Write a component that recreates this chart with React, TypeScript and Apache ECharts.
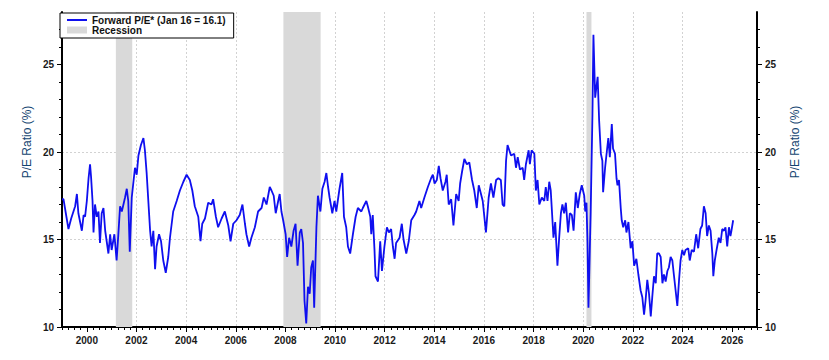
import React, { useEffect, useRef } from "react";
import * as echarts from "echarts";

// Forward P/E readings: [decimal year, value]
const forwardPE: [number, number][] = [
  [1999.0, 17.3], [1999.06, 17.3], [1999.26, 15.6], [1999.37, 16.2], [1999.53, 16.9], [1999.6, 17.6],
  [1999.66, 16.5], [1999.8, 15.5], [1999.87, 16.4], [1999.93, 16.3], [2000.0, 17.2], [2000.07, 18.5],
  [2000.13, 19.3], [2000.17, 18.6], [2000.23, 17.2], [2000.27, 15.4], [2000.33, 17.0], [2000.4, 16.3],
  [2000.47, 16.6], [2000.53, 14.8], [2000.6, 16.5], [2000.67, 16.8], [2000.74, 15.5], [2000.87, 14.2],
  [2000.94, 15.3], [2001.0, 14.4], [2001.11, 15.3], [2001.2, 13.8], [2001.27, 15.3], [2001.34, 16.9],
  [2001.41, 16.6], [2001.54, 17.4], [2001.61, 17.9], [2001.67, 17.2], [2001.73, 14.3], [2001.81, 17.4],
  [2001.94, 19.1], [2002.01, 18.7], [2002.08, 19.8], [2002.18, 20.4], [2002.28, 20.8], [2002.34, 20.1],
  [2002.41, 18.8], [2002.55, 15.5], [2002.61, 14.6], [2002.68, 15.5], [2002.75, 13.3], [2002.81, 14.6],
  [2002.91, 15.3], [2002.99, 14.9], [2003.08, 13.8], [2003.18, 13.1], [2003.28, 14.0], [2003.35, 15.1],
  [2003.48, 16.6], [2003.62, 17.2], [2003.75, 17.8], [2003.89, 18.3], [2004.02, 18.7], [2004.15, 18.4],
  [2004.25, 17.8], [2004.35, 16.9], [2004.49, 16.3], [2004.58, 14.9], [2004.65, 15.9], [2004.76, 16.2],
  [2004.89, 17.1], [2005.02, 17.0], [2005.09, 17.3], [2005.2, 16.3], [2005.29, 15.7], [2005.43, 16.2],
  [2005.56, 16.6], [2005.7, 15.8], [2005.79, 14.9], [2005.9, 15.9], [2006.03, 16.1], [2006.16, 16.4],
  [2006.27, 17.0], [2006.37, 15.9], [2006.43, 15.3], [2006.54, 14.6], [2006.63, 15.1], [2006.77, 15.7],
  [2006.9, 16.6], [2007.04, 16.8], [2007.13, 17.4], [2007.24, 17.0], [2007.37, 18.0], [2007.44, 17.8],
  [2007.53, 17.5], [2007.61, 16.5], [2007.71, 17.2], [2007.77, 17.6], [2007.84, 16.6], [2007.91, 16.1],
  [2008.01, 15.3], [2008.07, 14.0], [2008.15, 15.1], [2008.24, 14.6], [2008.33, 15.5], [2008.41, 15.9],
  [2008.49, 13.5], [2008.58, 15.4], [2008.64, 15.6], [2008.71, 14.8], [2008.77, 11.5], [2008.84, 10.2],
  [2008.91, 12.3], [2008.98, 11.9], [2009.04, 13.4], [2009.11, 13.8], [2009.16, 11.1], [2009.25, 15.7],
  [2009.31, 17.5], [2009.41, 16.6], [2009.49, 17.9], [2009.58, 18.3], [2009.65, 18.8], [2009.72, 18.0],
  [2009.78, 17.4], [2009.89, 16.5], [2009.98, 17.2], [2010.05, 16.6], [2010.18, 17.9], [2010.29, 18.8],
  [2010.36, 16.3], [2010.45, 15.7], [2010.52, 14.6], [2010.61, 14.2], [2010.72, 15.3], [2010.83, 16.3],
  [2010.92, 16.8], [2011.06, 16.6], [2011.12, 16.8], [2011.26, 17.2], [2011.32, 16.9], [2011.42, 16.3],
  [2011.46, 15.3], [2011.52, 16.4], [2011.59, 14.4], [2011.63, 12.9], [2011.73, 12.6], [2011.82, 14.9],
  [2011.89, 13.2], [2011.99, 14.6], [2012.09, 15.7], [2012.17, 15.4], [2012.26, 15.6], [2012.33, 14.6],
  [2012.4, 13.9], [2012.46, 14.8], [2012.6, 15.1], [2012.69, 15.9], [2012.76, 15.0], [2012.87, 14.2],
  [2012.97, 14.9], [2013.07, 16.1], [2013.2, 16.4], [2013.27, 16.6], [2013.4, 17.2], [2013.47, 16.8],
  [2013.6, 17.4], [2013.74, 18.0], [2013.87, 18.5], [2013.94, 18.7], [2014.01, 18.2], [2014.1, 18.4],
  [2014.18, 19.2], [2014.25, 18.5], [2014.34, 17.8], [2014.45, 18.3], [2014.5, 18.7], [2014.58, 17.0],
  [2014.68, 17.3], [2014.77, 15.8], [2014.88, 17.6], [2014.98, 17.2], [2015.04, 18.2], [2015.12, 18.9],
  [2015.21, 19.6], [2015.31, 19.3], [2015.41, 19.4], [2015.52, 18.4], [2015.61, 17.8], [2015.71, 16.8],
  [2015.79, 18.1], [2015.88, 17.6], [2015.95, 17.2], [2016.08, 15.4], [2016.19, 17.4], [2016.28, 18.2],
  [2016.38, 17.4], [2016.49, 18.4], [2016.58, 18.5], [2016.68, 18.4], [2016.75, 17.0], [2016.82, 16.9],
  [2016.89, 19.5], [2016.95, 20.4], [2017.09, 19.8], [2017.22, 19.9], [2017.29, 19.1], [2017.36, 19.7],
  [2017.45, 19.0], [2017.56, 19.1], [2017.62, 18.4], [2017.69, 19.3], [2017.8, 20.1], [2017.85, 19.3],
  [2017.92, 20.1], [2018.03, 19.9], [2018.09, 17.8], [2018.16, 18.4], [2018.23, 17.0], [2018.33, 17.4],
  [2018.43, 17.2], [2018.49, 18.0], [2018.56, 17.2], [2018.63, 18.3], [2018.69, 17.8], [2018.76, 16.1],
  [2018.8, 15.1], [2018.87, 16.0], [2018.96, 13.5], [2019.03, 15.1], [2019.1, 16.5], [2019.16, 17.0],
  [2019.23, 16.5], [2019.3, 17.1], [2019.39, 15.4], [2019.46, 16.5], [2019.54, 16.4], [2019.61, 15.5],
  [2019.7, 17.7], [2019.78, 16.8], [2019.86, 17.6], [2019.94, 18.1], [2020.04, 17.5], [2020.08, 16.6],
  [2020.13, 17.1], [2020.17, 14.9], [2020.21, 11.1], [2020.24, 12.9], [2020.3, 16.6], [2020.37, 22.1],
  [2020.41, 26.7], [2020.48, 23.1], [2020.53, 23.7], [2020.58, 24.3], [2020.64, 21.8], [2020.71, 19.9],
  [2020.77, 19.5], [2020.8, 17.7], [2020.88, 19.1], [2020.94, 19.9], [2021.01, 20.8], [2021.07, 19.7],
  [2021.15, 21.6], [2021.2, 20.2], [2021.28, 19.9], [2021.34, 18.5], [2021.38, 18.1], [2021.44, 18.4],
  [2021.51, 16.8], [2021.55, 16.1], [2021.61, 15.7], [2021.69, 16.1], [2021.74, 15.4], [2021.82, 16.0],
  [2021.91, 14.5], [2021.98, 14.9], [2022.05, 13.5], [2022.14, 13.9], [2022.22, 13.0], [2022.31, 12.1],
  [2022.38, 11.7], [2022.45, 10.7], [2022.51, 11.5], [2022.58, 12.7], [2022.65, 11.9], [2022.72, 10.6],
  [2022.78, 11.7], [2022.85, 12.9], [2022.92, 12.5], [2022.98, 14.2], [2023.05, 14.2], [2023.12, 14.0],
  [2023.19, 12.5], [2023.25, 13.0], [2023.32, 12.6], [2023.39, 13.2], [2023.45, 13.4], [2023.52, 14.0],
  [2023.59, 13.8], [2023.65, 13.0], [2023.72, 12.1], [2023.79, 11.2], [2023.86, 12.7], [2023.92, 13.8],
  [2023.99, 14.4], [2024.06, 14.1], [2024.12, 14.4], [2024.23, 14.5], [2024.29, 13.8], [2024.37, 14.4],
  [2024.46, 14.3], [2024.55, 15.3], [2024.63, 14.5], [2024.72, 15.6], [2024.79, 15.8], [2024.86, 16.9],
  [2024.93, 16.5], [2024.99, 15.2], [2025.06, 15.8], [2025.13, 15.5], [2025.2, 14.2], [2025.24, 12.9],
  [2025.3, 13.8], [2025.37, 14.4], [2025.46, 15.1], [2025.53, 14.8], [2025.6, 15.6], [2025.67, 15.5],
  [2025.73, 15.7], [2025.8, 14.6], [2025.87, 15.7], [2025.93, 15.2], [2025.97, 15.5], [2026.04, 16.1],
];

// Recession periods (decimal years)
const recessions: [number, number][] = [
  [2001.17, 2001.83],
  [2007.92, 2009.42],
  [2020.13, 2020.33],
];

const xTickLabels = [2000, 2002, 2004, 2006, 2008, 2010, 2012, 2014, 2016, 2018, 2020, 2022, 2024, 2026];
const yTickLabels = [10, 15, 20, 25];

const seriesName = "Forward P/E* (Jan 16 = 16.1)";
const recessionName = "Recession";
const axisTitle = "P/E Ratio (%)";

const X_MIN = 1999;
const X_MAX = 2027;
const Y_MIN = 10;
const Y_MAX = 28;

const FONT = "Arial, 'Liberation Sans', Helvetica, sans-serif";
const TITLE_COLOR = "#134470";
const LINE_COLOR = "#0f0fef";

export default function App() {
  const ref = useRef<HTMLDivElement>(null);

  useEffect(() => {
    if (!ref.current) return;
    const chart = echarts.init(ref.current, undefined, { renderer: "svg" });

    const xMinor: number[] = [];
    for (let q = X_MIN * 4; q <= X_MAX * 4; q++) {
      const v = q / 4;
      if (!xTickLabels.includes(v)) xMinor.push(v);
    }
    const yMinor: number[] = [];
    for (let v = Y_MIN + 1; v < Y_MAX; v++) {
      if (!yTickLabels.includes(v)) yMinor.push(v);
    }

    const labelStyle = {
      color: "#1a1a1a",
      fontWeight: "bold" as const,
      fontSize: 10,
      fontFamily: FONT,
    };
    const splitLine = {
      show: true,
      showMinLine: false,
      showMaxLine: false,
      lineStyle: { color: "#d2d2d2", type: [2, 2] as any, width: 1 },
    };

    const majorY = (position: "left" | "right") => ({
      type: "value",
      position,
      min: Y_MIN,
      max: Y_MAX,
      interval: 5,
      axisLine: { show: true, lineStyle: { color: "#000", width: 2 } },
      axisTick: { show: true, customValues: yTickLabels, length: 5, inside: false, lineStyle: { color: "#000", width: 1 } },
      axisLabel: { ...labelStyle, customValues: yTickLabels, margin: 8 },
      splitLine: position === "left" ? splitLine : { show: false },
    });
    const minorY = (position: "left" | "right") => ({
      type: "value",
      position,
      min: Y_MIN,
      max: Y_MAX,
      interval: 1,
      axisLine: { show: false },
      axisTick: { show: true, customValues: yMinor, length: 3, inside: false, lineStyle: { color: "#000", width: 1 } },
      axisLabel: { show: false },
      splitLine: { show: false },
    });

    const titleText = (x: number) => ({
      type: "text",
      x,
      y: 142,
      rotation: Math.PI / 2,
      style: {
        text: axisTitle,
        x: 0,
        y: 0,
        fill: TITLE_COLOR,
        fontSize: 12,
        fontFamily: FONT,
        align: "center",
        verticalAlign: "middle",
        textAlign: "center",
        textVerticalAlign: "middle",
      },
    });

    chart.setOption({
      animation: false,
      backgroundColor: "#ffffff",
      grid: { left: 62, right: 72, top: 12, bottom: 33, containLabel: false },
      legend: {
        show: true,
        orient: "vertical",
        left: 60,
        top: 13,
        itemWidth: 20,
        itemHeight: 7,
        itemGap: 0,
        padding: [2, 8, 3, 6],
        borderColor: "#000",
        borderWidth: 1,
        backgroundColor: "#ffffff",
        selectedMode: false,
        textStyle: { ...labelStyle, color: "#111", lineHeight: 10, padding: [0, 0, 0, 0] },
        data: [
          { name: seriesName, itemStyle: { opacity: 0, color: "rgba(0,0,0,0)", borderWidth: 0 } },
          { name: recessionName, icon: "rect" },
        ],
        z: 10,
      },
      xAxis: [
        {
          type: "value",
          position: "bottom",
          min: X_MIN,
          max: X_MAX,
          axisLine: { show: true, onZero: false, lineStyle: { color: "#000", width: 2 } },
          axisTick: { show: true, customValues: xTickLabels, length: 5, inside: false, lineStyle: { color: "#000", width: 1 } },
          axisLabel: { ...labelStyle, customValues: xTickLabels, margin: 8, formatter: (v: number) => String(v) },
          splitLine,
        },
        {
          type: "value",
          position: "bottom",
          min: X_MIN,
          max: X_MAX,
          axisLine: { show: false, onZero: false },
          axisTick: { show: true, customValues: xMinor, length: 3, inside: false, lineStyle: { color: "#000", width: 1 } },
          axisLabel: { show: false },
          splitLine: { show: false },
        },
      ],
      yAxis: [majorY("left"), majorY("right"), minorY("left"), minorY("right")],
      graphic: [titleText(27), titleText(795)],
      series: [
        {
          name: recessionName,
          type: "bar",
          xAxisIndex: 0,
          yAxisIndex: 0,
          data: [],
          itemStyle: { color: "#d9d9d9" },
          z: 1,
          markArea: {
            silent: true,
            itemStyle: { color: "#d9d9d9", opacity: 1 },
            data: recessions.map(([a, b]) => [{ xAxis: a }, { xAxis: b }]),
          },
        },
        {
          name: seriesName,
          type: "line",
          xAxisIndex: 0,
          yAxisIndex: 0,
          data: forwardPE,
          symbol: "none",
          showSymbol: false,
          lineStyle: { color: LINE_COLOR, width: 1.8 },
          itemStyle: { color: LINE_COLOR },
          z: 5,
        },
      ],
    });

    return () => chart.dispose();
  }, []);

  return (
    <div
      ref={ref}
      style={{ position: "fixed", left: 0, top: 0, width: 829, height: 360, background: "#fff" }}
    />
  );
}
